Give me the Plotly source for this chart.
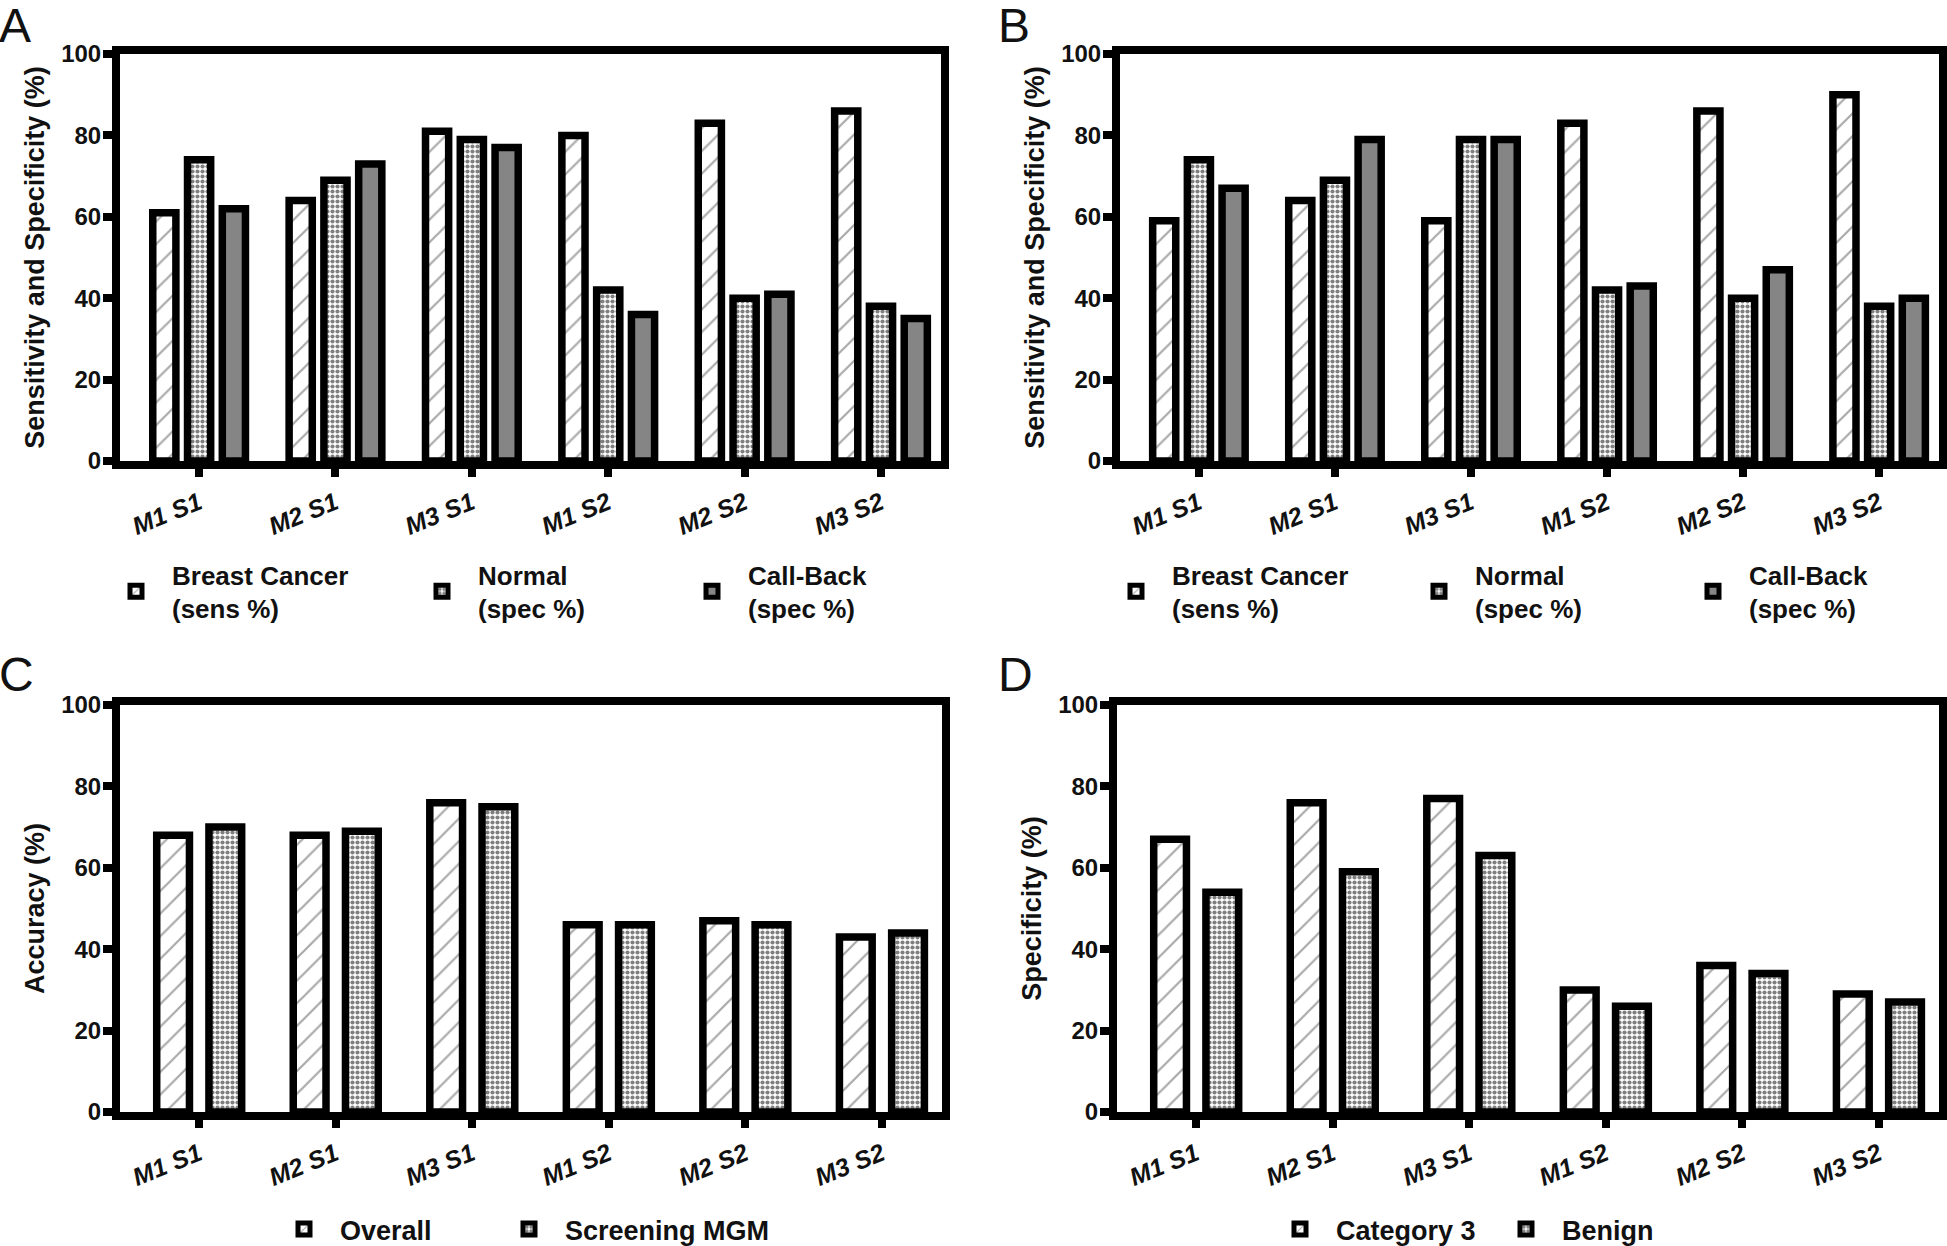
import plotly.graph_objects as go

# ---------------- data ----------------
categories = ["M1 S1", "M2 S1", "M3 S1", "M1 S2", "M2 S2", "M3 S2"]

a_breast_sens = [61, 64, 81, 80, 83, 86]
a_normal_spec = [74, 69, 79, 42, 40, 38]
a_callback_spec = [62, 73, 77, 36, 41, 35]

b_breast_sens = [59, 64, 59, 83, 86, 90]
b_normal_spec = [74, 69, 79, 42, 40, 38]
b_callback_spec = [67, 79, 79, 43, 47, 40]

c_overall = [68, 68, 76, 46, 47, 43]
c_screening = [70, 69, 75, 46, 46, 44]

d_category3 = [67, 76, 77, 30, 36, 29]
d_benign = [54, 59, 63, 26, 34, 27]

y_ticks = [0, 20, 40, 60, 80, 100]

# ---------------- style ----------------
W, H = 1947, 1246
FONT = "Liberation Sans, Arial, Helvetica, sans-serif"
LW = 7.5

hatch = dict(color="white", line=dict(color="black", width=LW),
             pattern=dict(shape="/", fgcolor="#555555", bgcolor="white", size=16, solidity=0.14))
dots = dict(color="white", line=dict(color="black", width=LW),
            pattern=dict(shape=".", fgcolor="black", bgcolor="white", size=5, solidity=0.55))
grey = dict(color="#858585", line=dict(color="black", width=LW))


def px_x(a, b):
    return [a / W, b / W]


def px_y(top, bottom):
    return [(H - bottom) / H, (H - top) / H]


fig = go.Figure()


def add(vals, name, marker, n, legend, lw_px, width):
    ax = "" if n == 1 else str(n)
    fig.add_trace(go.Bar(
        x=categories, y=vals, name="<b>" + name + "</b>", marker=marker,
        xaxis="x" + ax, yaxis="y" + ax, legend=legend,
        width=width, legendwidth=lw_px,
    ))


w3 = 23 / 135.5
w2 = 32.5 / 135.5

add(a_breast_sens, "Breast Cancer<br>(sens %)", hatch, 1, "legend", 229, w3)
add(a_normal_spec, "Normal<br>(spec %)", dots, 1, "legend", 193, w3)
add(a_callback_spec, "Call-Back<br>(spec %)", grey, 1, "legend", 193, w3)

add(b_breast_sens, "Breast Cancer<br>(sens %)", hatch, 2, "legend2", 226, w3)
add(b_normal_spec, "Normal<br>(spec %)", dots, 2, "legend2", 197, w3)
add(b_callback_spec, "Call-Back<br>(spec %)", grey, 2, "legend2", 197, w3)

add(c_overall, "Overall", hatch, 3, "legend3", 148, w2)
add(c_screening, "Screening MGM", dots, 3, "legend3", 230, w2)

add(d_category3, "Category 3", hatch, 4, "legend4", 149, w2)
add(d_benign, "Benign", dots, 4, "legend4", 149, w2)


def xaxis(domain, anchor):
    return dict(
        domain=domain, anchor=anchor, type="category", categoryorder="array",
        categoryarray=categories, range=[-0.58, 5.44],
        tickvals=categories, ticktext=["<b><i>" + c + "</i></b>" for c in categories],
        showline=True, linewidth=8, linecolor="black", mirror=True,
        ticks="outside", ticklen=8, tickwidth=8, tickcolor="black",
        tickangle=-22, ticklabelstandoff=2,
        tickfont=dict(family=FONT, size=25, color="#111"),
        showgrid=False, zeroline=False, fixedrange=True, automargin=False,
    )


def yaxis(domain, anchor, title):
    return dict(
        domain=domain, anchor=anchor, range=[0, 100], tickvals=y_ticks,
        ticktext=["<b>" + str(v) + "</b>" for v in y_ticks],
        showline=True, linewidth=8, linecolor="black", mirror=True,
        ticks="outside", ticklen=9, tickwidth=8, tickcolor="black",
        ticklabelstandoff=-3,
        tickfont=dict(family=FONT, size=24, color="#111"),
        title=dict(text="<b>" + title + "</b>", standoff=12,
                   font=dict(family=FONT, size=27, color="#111")),
        showgrid=False, zeroline=False, fixedrange=True, automargin=False,
    )


top_y = px_y(54, 461)
bot_y = px_y(705, 1112)

legend_font = dict(family=FONT, size=26, color="#111")
legend_font_cd = dict(family=FONT, size=27, color="#111")


def legend(x_px, y_px, font):
    return dict(orientation="h", x=x_px / W, xanchor="left", y=(H - y_px) / H, yanchor="top",
                itemwidth=62, valign="middle", font=font, bgcolor="rgba(0,0,0,0)",
                borderwidth=0, traceorder="normal", itemclick=False, itemdoubleclick=False)


fig.update_layout(
    width=W, height=H,
    margin=dict(l=0, r=0, t=0, b=0, autoexpand=False),
    paper_bgcolor="white", plot_bgcolor="white",
    barmode="group", bargap=0.235, bargroupgap=0,
    font=dict(family=FONT, color="#111"),
    xaxis=xaxis(px_x(120, 941), "y"),
    yaxis=yaxis(top_y, "x", "Sensitivity and Specificity (%)"),
    xaxis2=xaxis(px_x(1120, 1939), "y2"),
    yaxis2=yaxis(top_y, "x2", "Sensitivity and Specificity (%)"),
    xaxis3=xaxis(px_x(120, 942), "y3"),
    yaxis3=yaxis(bot_y, "x3", "Accuracy (%)"),
    xaxis4=xaxis(px_x(1117, 1939), "y4"),
    yaxis4=yaxis(bot_y, "x4", "Specificity (%)"),
    legend=legend(100, 551, legend_font),
    legend2=legend(1100, 551, legend_font),
    legend3=legend(268, 1205, legend_font_cd),
    legend4=legend(1264, 1205, legend_font_cd),
    showlegend=True,
)

letters = [("A", -3, -3), ("B", 996, -3), ("C", -3, 646), ("D", 996, 646)]
for txt, xp, yp in letters:
    fig.add_annotation(text=txt, xref="paper", yref="paper", x=xp / W, y=(H - yp) / H,
                       xanchor="left", yanchor="top", showarrow=False,
                       font=dict(family=FONT, size=48, color="#111"))

fig.write_html(
    "out.html",
    config={"displayModeBar": False},
    post_script="document.body.style.margin='0px';document.body.style.overflow='hidden';",
)
